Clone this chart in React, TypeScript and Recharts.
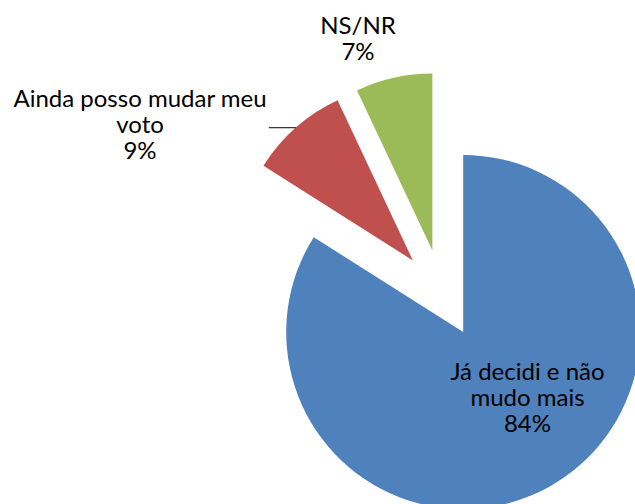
import { PieChart, Pie, Cell } from 'recharts'

// Intenção de voto: certeza da escolha
const categories = ['Já decidi e não mudo mais', 'Ainda posso mudar meu voto', 'NS/NR']
const shares = [84, 9, 7]
const labelLines = [
  ['Já decidi e não', 'mudo mais'],
  ['Ainda posso mudar meu', 'voto'],
  ['NS/NR'],
]
const colors = ['#4F81BD', '#C0504D', '#9BBB59']

const data = categories.map((name, i) => ({ name, value: shares[i] }))

const WIDTH = 635
const HEIGHT = 504
const CX = 442
const CY = 293.5
const RADIUS = 177
const EXPLODE = 44
const START = 90
const RADIAN = Math.PI / 180
const FONT = 'Lato, "Open Sans", sans-serif'
const FONT_SIZE = 24
const LINE_H = 26

// label block: centre x and first baseline, relative to the pie centre
const LABEL_POS = [
  [85.5, 86.5],
  [-302, -187],
  [-84, -260],
]

// every slice is pulled out along its own mid angle
const total = shares.reduce((s, v) => s + v, 0)
const offsets = shares.map((v, i) => {
  const before = shares.slice(0, i).reduce((s, x) => s + x, 0)
  const mid = START - ((before + v / 2) / total) * 360
  return {
    dx: EXPLODE * Math.cos(mid * RADIAN),
    dy: -EXPLODE * Math.sin(mid * RADIAN),
  }
})

function renderLabel(props: any) {
  const { cx, cy, midAngle, outerRadius, index } = props
  const [lx, ly] = LABEL_POS[index]
  const lines = [...labelLines[index], `${shares[index]}%`]
  const off = offsets[index]
  const x = cx + lx
  const y = cy + ly

  let leader = null
  if (index === 1) {
    const ax = cx + off.dx + outerRadius * Math.cos(-midAngle * RADIAN)
    const ay = cy + off.dy + outerRadius * Math.sin(-midAngle * RADIAN)
    leader = <line x1={ax} y1={ay} x2={ax - 27} y2={ay} stroke="#000" strokeWidth={1} />
  }

  return (
    <g key={`label-${index}`}>
      {leader}
      <text x={x} y={y} textAnchor="middle" fontFamily={FONT} fontSize={FONT_SIZE} fill="#000">
        {lines.map((t, i) => (
          <tspan key={i} x={x} y={y + i * LINE_H}>
            {t}
          </tspan>
        ))}
      </text>
    </g>
  )
}

export default function App() {
  return (
    <div style={{ position: 'absolute', left: 0, top: 0, background: '#fff' }}>
      <PieChart width={WIDTH} height={HEIGHT} margin={{ top: 0, right: 0, bottom: 0, left: 0 }}>
        <Pie
          data={data}
          dataKey="value"
          nameKey="name"
          cx={CX}
          cy={CY}
          innerRadius={0}
          outerRadius={RADIUS}
          startAngle={START}
          endAngle={START - 360}
          stroke="none"
          isAnimationActive={false}
          labelLine={false}
          label={renderLabel}
        >
          {data.map((d, i) => (
            <Cell
              key={d.name}
              fill={colors[i]}
              transform={`translate(${offsets[i].dx}, ${offsets[i].dy})`}
            />
          ))}
        </Pie>
      </PieChart>
    </div>
  )
}
